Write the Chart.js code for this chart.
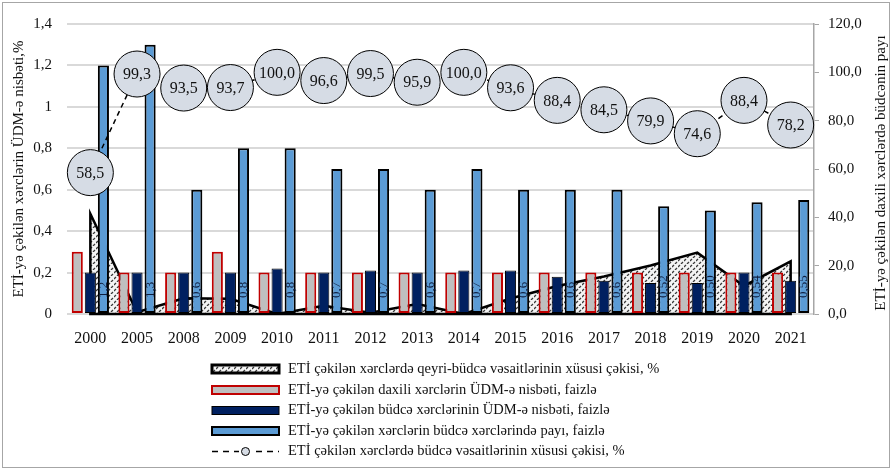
<!DOCTYPE html>
<html lang="az">
<head>
<meta charset="UTF-8">
<title>ETİ xərcləri</title>
<script src="https://cdn.jsdelivr.net/npm/chart.js"></script>
<style>
    body { margin: 0; background: #fff; }
    #wrap { width: 893px; height: 471px; position: relative; }
</style>
</head>
<body>
<div id="wrap"><canvas id="myChart"></canvas></div>
<script>
    // data
    const years = ['2000', '2005', '2008', '2009', '2010', '2011', '2012', '2013', '2014', '2015', '2016', '2017', '2018', '2019', '2020', '2021'];
    const nonBudgetShare = [41.5, 0.7, 6.5, 6.3, 0.0, 3.4, 0.5, 4.1, 0.0, 6.4, 11.6, 15.5, 20.1, 25.4, 11.6, 21.8];
    const domesticToGdp = [0.3, 0.2, 0.2, 0.3, 0.2, 0.2, 0.2, 0.2, 0.2, 0.2, 0.2, 0.2, 0.2, 0.2, 0.2, 0.2];
    const budgetToGdp = [0.2, 0.2, 0.2, 0.2, 0.22, 0.2, 0.21, 0.2, 0.21, 0.21, 0.18, 0.16, 0.15, 0.15, 0.2, 0.16];
    const shareInBudget = [1.2, 1.3, 0.6, 0.8, 0.8, 0.7, 0.7, 0.6, 0.7, 0.6, 0.6, 0.6, 0.52, 0.50, 0.54, 0.55];
    const shareInBudgetLabels = ['1,2', '1,3', '0,6', '0,8', '0,8', '0,7', '0,7', '0,6', '0,7', '0,6', '0,6', '0,6', '0,52', '0,50', '0,54', '0,55'];
    const budgetShare = [58.5, 99.3, 93.5, 93.7, 100.0, 96.6, 99.5, 95.9, 100.0, 93.6, 88.4, 84.5, 79.9, 74.6, 88.4, 78.2];

    const leftTicks = ['0', '0,2', '0,4', '0,6', '0,8', '1', '1,2', '1,4'];
    const rightTicks = ['0,0', '20,0', '40,0', '60,0', '80,0', '100,0', '120,0'];

    const seriesNames = [
        'ETİ çəkilən xərclərdə qeyri-büdcə vəsaitlərinin xüsusi çəkisi, %',
        'ETİ-yə çəkilən daxili xərclərin ÜDM-ə nisbəti, faizlə',
        'ETİ-yə çəkilən büdcə xərclərinin ÜDM-ə nisbəti, faizlə',
        'ETİ-yə çəkilən xərclərin büdcə xərclərində payı, faizlə',
        'ETİ çəkilən xərclərdə büdcə vəsaitlərinin xüsusi çəkisi, %'
    ];
    const leftTitle = 'ETİ-yə çəkilən xərclərin ÜDM-ə nisbəti,%';
    const rightTitle = 'ETİ-yə çəkilən daxili xərclərdə büdcənin payı';

    const serif = 'Liberation Serif, Times New Roman, serif';
    const ctx = document.getElementById('myChart').getContext('2d');

    // dotted hatch like the excel pattern fill
    function makeHatch() {
        const c = document.createElement('canvas');
        c.width = 6; c.height = 6;
        const g = c.getContext('2d');
        g.fillStyle = '#f4f4f4';
        g.fillRect(0, 0, 6, 6);
        g.strokeStyle = '#3a3a3a';
        g.lineWidth = 1.3;
        g.beginPath();
        g.moveTo(0, 3); g.lineTo(2, 1);
        g.moveTo(3, 6); g.lineTo(5, 4);
        g.stroke();
        return ctx.createPattern(c, 'repeat');
    }
    const hatch = makeHatch();

    const extras = {
        id: 'extras',
        afterDatasetDraw(chart, args) {
            // outline of the area, incl. the sides and the base
            if (args.index !== 0) return;
            const pts = args.meta.data;
            const base = chart.scales.y1.getPixelForValue(0);
            const c = chart.ctx;
            c.save();
            c.strokeStyle = '#000';
            c.lineWidth = 2.5;
            c.lineJoin = 'miter';
            c.beginPath();
            c.moveTo(pts[0].x, base);
            pts.forEach(p => c.lineTo(p.x, p.y));
            c.lineTo(pts[pts.length - 1].x, base);
            c.closePath();
            c.stroke();
            c.restore();
        },
        afterDatasetsDraw(chart) {
            const c = chart.ctx;
            // labels inside blue bars
            const base = chart.scales.y.getPixelForValue(0);
            c.save();
            c.font = '13px ' + serif;
            c.fillStyle = '#0e1d3e';
            c.textAlign = 'left';
            c.textBaseline = 'middle';
            chart.getDatasetMeta(3).data.forEach((bar, i) => {
                c.save();
                c.translate(bar.x, base - 16);
                c.rotate(-Math.PI / 2);
                c.fillText(shareInBudgetLabels[i], 0, 0);
                c.restore();
            });
            c.restore();
            // values inside the circles
            c.save();
            c.font = '16px ' + serif;
            c.fillStyle = '#111';
            c.textAlign = 'center';
            c.textBaseline = 'middle';
            chart.getDatasetMeta(4).data.forEach((p, i) => {
                c.fillText(budgetShare[i].toFixed(1).replace('.', ','), p.x, p.y + 1);
            });
            c.restore();
        },
        afterDraw(chart) {
            const c = chart.ctx;
            c.save();
            // outer frame
            c.strokeStyle = '#a6a6a6';
            c.lineWidth = 1;
            c.strokeRect(2.5, 2.5, 887, 465);
            // right axis title, reads bottom to top
            c.font = '15px ' + serif;
            c.fillStyle = '#111';
            c.textAlign = 'center';
            c.textBaseline = 'middle';
            c.translate(881, 173);
            c.rotate(-Math.PI / 2);
            c.fillText(rightTitle, 0, 0);
            c.restore();

            // legend, one item per row
            const x0 = 212, x1 = 279, tx = 288;
            const rows = [369, 390, 410.5, 431, 451.5];
            c.save();
            c.font = '14.5px ' + serif;
            c.textBaseline = 'middle';
            c.textAlign = 'left';
            rows.forEach((y, i) => {
                c.save();
                if (i === 0) {
                    c.fillStyle = hatch;
                    c.fillRect(x0, y - 4, x1 - x0, 8);
                    c.strokeStyle = '#000'; c.lineWidth = 3;
                    c.strokeRect(x0, y - 4, x1 - x0, 8);
                } else if (i === 1) {
                    c.fillStyle = '#bfbfbf';
                    c.fillRect(x0, y - 4, x1 - x0, 8);
                    c.strokeStyle = '#c00000'; c.lineWidth = 2;
                    c.strokeRect(x0, y - 4, x1 - x0, 8);
                } else if (i === 2) {
                    c.fillStyle = '#002060';
                    c.fillRect(x0, y - 4, x1 - x0, 8);
                    c.strokeStyle = '#000'; c.lineWidth = 1;
                    c.strokeRect(x0, y - 4, x1 - x0, 8);
                } else if (i === 3) {
                    c.fillStyle = '#5b9bd5';
                    c.fillRect(x0, y - 4, x1 - x0, 8);
                    c.strokeStyle = '#000'; c.lineWidth = 2;
                    c.strokeRect(x0, y - 4, x1 - x0, 8);
                } else {
                    c.strokeStyle = '#000'; c.lineWidth = 1.5;
                    c.setLineDash([6, 5]);
                    c.beginPath(); c.moveTo(x0, y); c.lineTo(x1, y); c.stroke();
                    c.setLineDash([]);
                    c.fillStyle = '#fff';
                    c.fillRect(239, y - 5, 13, 10);
                    c.beginPath(); c.arc(245.5, y, 4, 0, Math.PI * 2);
                    c.fillStyle = '#d6dce5'; c.fill();
                    c.lineWidth = 1; c.stroke();
                }
                c.restore();
                c.fillStyle = '#111';
                c.fillText(seriesNames[i], tx, y);
            });
            c.restore();
        }
    };

    const myChart = new Chart(ctx, {
        type: 'bar',
        data: {
            labels: years,
            datasets: [{
                type: 'line',
                label: seriesNames[0],
                data: nonBudgetShare,
                yAxisID: 'y1',
                fill: 'origin',
                backgroundColor: hatch,
                borderWidth: 0,
                pointRadius: 0,
                tension: 0,
                order: 10
            }, {
                label: seriesNames[1],
                data: domesticToGdp,
                yAxisID: 'y',
                backgroundColor: '#bfbfbf',
                borderColor: '#c00000',
                borderWidth: 2,
                borderSkipped: false,
                order: 5
            }, {
                label: seriesNames[2],
                data: budgetToGdp,
                yAxisID: 'y',
                backgroundColor: '#002060',
                borderColor: '#000',
                borderWidth: 1,
                borderSkipped: false,
                order: 5
            }, {
                label: seriesNames[3],
                data: shareInBudget,
                yAxisID: 'y',
                backgroundColor: '#5b9bd5',
                borderColor: '#000',
                borderWidth: 2,
                borderSkipped: false,
                order: 5
            }, {
                type: 'line',
                label: seriesNames[4],
                data: budgetShare,
                yAxisID: 'y1',
                fill: false,
                borderColor: '#000',
                borderWidth: 1.5,
                borderDash: [5, 4],
                pointRadius: 23,
                pointBackgroundColor: '#d6dce5',
                pointBorderColor: '#000',
                pointBorderWidth: 1,
                tension: 0,
                clip: false,
                order: 0
            }]
        },
        options: {
            responsive: true,
            maintainAspectRatio: false,
            animation: false,
            categoryPercentage: 0.84,
            barPercentage: 0.85,
            layout: { padding: { top: 17, bottom: 117, left: 0, right: 0 } },
            plugins: {
                legend: { display: false },
                tooltip: { enabled: false }
            },
            scales: {
                x: {
                    grid: { display: false },
                    border: { display: false },
                    ticks: { color: '#111', font: { family: serif, size: 16 }, padding: 7 },
                    afterFit(scale) { scale.height = 40; }
                },
                y: {
                    position: 'left',
                    min: 0,
                    max: 1.4,
                    ticks: {
                        stepSize: 0.2,
                        color: '#111',
                        font: { family: serif, size: 15 },
                        padding: 15,
                        callback: (v, i) => leftTicks[i]
                    },
                    grid: { color: '#d9d9d9', lineWidth: 2, drawTicks: false },
                    border: { display: false },
                    title: {
                        display: true,
                        text: leftTitle,
                        color: '#111',
                        font: { family: serif, size: 15 },
                        padding: { top: 10, bottom: 0 }
                    },
                    afterFit(scale) { scale.width = 67; }
                },
                y1: {
                    position: 'right',
                    min: 0,
                    max: 120,
                    ticks: {
                        stepSize: 20,
                        color: '#111',
                        font: { family: serif, size: 15 },
                        padding: 9,
                        callback: (v, i) => rightTicks[i]
                    },
                    grid: { drawOnChartArea: false, color: '#a6a6a6', tickLength: 5 },
                    border: { display: true, color: '#a6a6a6', width: 1.5 },
                    afterFit(scale) { scale.width = 79; }
                }
            }
        },
        plugins: [extras]
    });
</script>
</body>
</html>
